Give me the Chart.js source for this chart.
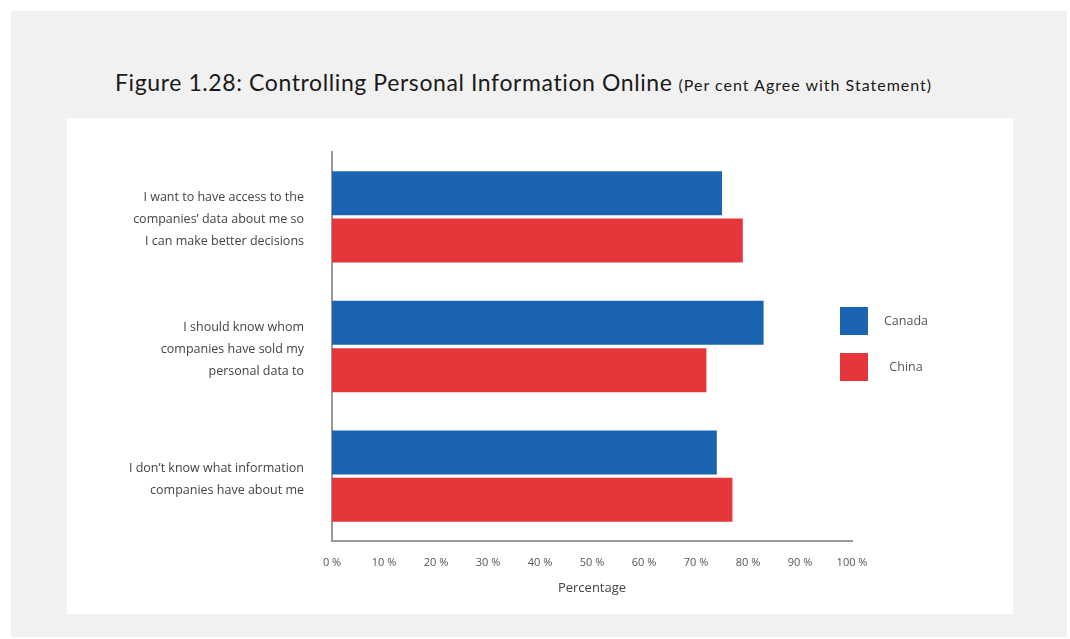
<!DOCTYPE html>
<html>
<head>
    <title>Figure 1.28</title>
    <script src="https://cdn.jsdelivr.net/npm/chart.js"></script>
    <style>
        body { margin: 0; background: #fff; font-family: Lato, "Open Sans", sans-serif; }
        #frame { position: absolute; left: 11px; top: 11px; width: 1056px; height: 626px; background: #f1f1f1; }
        #title { position: absolute; left: 104px; top: 57px; white-space: nowrap; color: #1a1a1a; }
        #title .main { font-size: 23px; letter-spacing: 0.6px; }
        #title .sub { font-size: 16px; letter-spacing: 1px; margin-left: 1px; }
        #panel { position: absolute; left: 56px; top: 107px; width: 946px; height: 496px; background: #fff; }
        #legend { position: absolute; left: 773px; top: 189px; }
        .item { position: relative; height: 46px; }
        .box { position: absolute; left: 0; top: 0; width: 28px; height: 28px; }
        .lbl { position: absolute; left: 34px; width: 64px; top: 5px; text-align: center; font-family: "Open Sans"; font-size: 12.5px; color: #555; }
    </style>
</head>
<body>
<div id="frame">
    <div id="title"><span class="main">Figure 1.28: Controlling Personal Information Online</span><span class="sub"> (Per cent Agree with Statement)</span></div>
    <div id="panel">
        <canvas id="chart" width="946" height="496"></canvas>
        <div id="legend"></div>
    </div>
</div>

<script>
    // données
    const statements = [
        ['I want to have access to the', 'companies’ data about me so', 'I can make better decisions'],
        ['I should know whom', 'companies have sold my', 'personal data to'],
        ['I don’t know what information', 'companies have about me']
    ];
    const canada = [75, 83, 74];
    const china = [79, 72, 77];
    const xTicks = [0, 10, 20, 30, 40, 50, 60, 70, 80, 90, 100];

    const blue = '#1a64b1';
    const red = '#e5363c';

    const ctx = document.getElementById('chart').getContext('2d');
    const chart = new Chart(ctx, {
        type: 'bar',
        data: {
            labels: statements,
            datasets: [
                { label: 'Canada', data: canada, backgroundColor: blue },
                { label: 'China', data: china, backgroundColor: red }
            ]
        },
        options: {
            indexAxis: 'y',
            responsive: false,
            animation: false,
            categoryPercentage: 0.73,
            barPercentage: 0.93,
            layout: { padding: { left: 0, right: 161, top: 34, bottom: 18 } },
            plugins: {
                legend: { display: false },
                tooltip: { enabled: false }
            },
            scales: {
                x: {
                    min: 0,
                    max: 100,
                    afterBuildTicks: s => { s.ticks = xTicks.map(v => ({ value: v })); },
                    afterFit: s => { s.height = 55; s.paddingLeft = 0; s.paddingRight = 0; },
                    grid: { display: false, drawTicks: false },
                    border: { color: '#999', width: 2 },
                    ticks: {
                        padding: 15,
                        color: '#555',
                        maxRotation: 0,
                        font: { family: 'Open Sans', size: 11 },
                        callback: v => v + ' %'
                    },
                    title: {
                        display: true,
                        text: 'Percentage',
                        color: '#444',
                        font: { family: 'Open Sans', size: 13 },
                        padding: { top: 12, bottom: 0 }
                    }
                },
                y: {
                    grid: { display: false, drawTicks: false },
                    border: { color: '#999', width: 2 },
                    afterFit: s => { s.width = 265; s.paddingTop = 0; s.paddingBottom = 0; },
                    ticks: {
                        padding: 28,
                        labelOffset: 3,
                        color: '#444',
                        font: { family: 'Open Sans', size: 12.5, lineHeight: 1.76 }
                    }
                }
            }
        }
    });

    // légende à droite
    const legend = document.getElementById('legend');
    chart.data.datasets.forEach(ds => {
        const item = document.createElement('div');
        item.className = 'item';
        item.innerHTML = '<div class="box" style="background:' + ds.backgroundColor + '"></div><div class="lbl">' + ds.label + '</div>';
        legend.appendChild(item);
    });
</script>
</body>
</html>
